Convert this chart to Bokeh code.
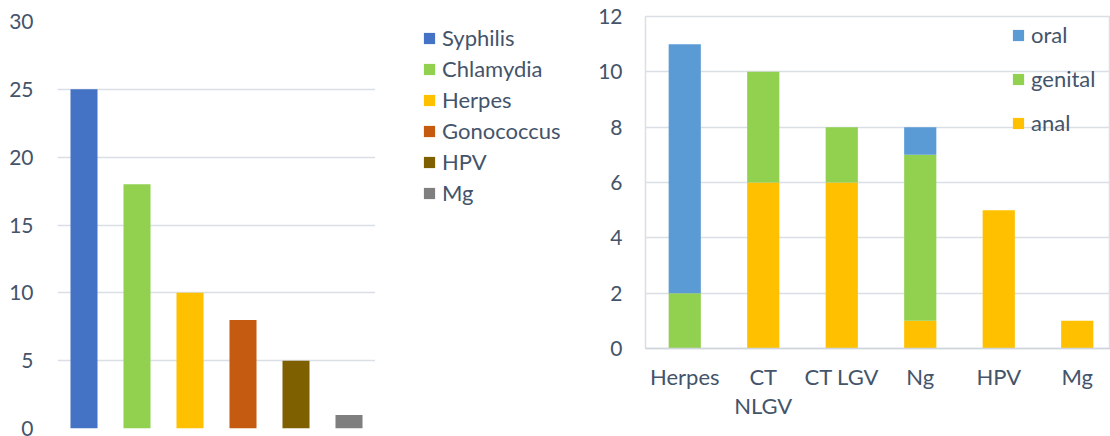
from bokeh.plotting import figure
from bokeh.models import Range1d, FixedTicker, Legend, LegendItem, ColumnDataSource
from bokeh.layouts import row
from bokeh.embed import file_html
from bokeh.resources import INLINE

# ---- data ----
left_cats = ["Syphilis", "Chlamydia", "Herpes", "Gonococcus", "HPV", "Mg"]
left_vals = [25, 18, 10, 8, 5, 1]
left_colors = ["#4472C4", "#92D050", "#FFC000", "#C55A11", "#7F6000", "#7F7F7F"]
left_ticks = [0, 5, 10, 15, 20, 25, 30]

right_cats = ["Herpes", "CT\nNLGV", "CT LGV", "Ng", "HPV", "Mg"]
anal = [0, 6, 6, 1, 5, 1]
genital = [2, 4, 2, 6, 0, 0]
oral = [9, 0, 0, 1, 0, 0]
right_series = ["anal", "genital", "oral"]
right_colors = ["#FFC000", "#92D050", "#5B9BD5"]
right_ticks = [0, 2, 4, 6, 8, 10, 12]

FONT = "Lato"
TXT = "#44546A"
GRID = "#DADFE6"

# ---- left chart ----
lx = [i + 0.5 for i in range(len(left_cats))]
lsrc = ColumnDataSource(dict(x=lx, top=left_vals, color=left_colors, cat=left_cats))
p1 = figure(width=375, height=436, output_backend="svg", toolbar_location=None,
            x_range=Range1d(0, len(left_cats)), y_range=Range1d(0, 30),
            min_border_left=57, min_border_right=0, min_border_top=21, min_border_bottom=8)
p1.frame_align = False
r1 = p1.vbar(x="x", top="top", width=0.51, fill_color="color", line_color=None, source=lsrc)
p1.xaxis.visible = False
p1.xgrid.visible = False
p1.ygrid.grid_line_color = GRID
p1.ygrid.grid_line_width = 1.5
p1.yaxis.ticker = FixedTicker(ticks=left_ticks)
p1.yaxis.axis_line_color = None
p1.yaxis.major_tick_line_color = None
p1.yaxis.minor_tick_line_color = None
p1.yaxis.major_tick_out = 0
p1.yaxis.minor_tick_out = 0
p1.yaxis.major_label_standoff = 24
p1.yaxis.major_label_text_font = FONT
p1.yaxis.major_label_text_font_size = "21px"
p1.yaxis.major_label_text_color = TXT
p1.outline_line_color = None

# ---- left legend (own blank panel to the right of the chart) ----
pl = figure(width=215, height=436, output_backend="svg", toolbar_location=None,
            x_range=Range1d(100, 101), y_range=Range1d(100, 101),
            min_border_left=0, min_border_right=0, min_border_top=0, min_border_bottom=0)
pl.frame_align = False
pl.axis.visible = False
pl.grid.visible = False
pl.outline_line_color = None
rl = pl.vbar(x="x", top="top", width=0.51, fill_color="color", line_color=None, source=lsrc)
items1 = [LegendItem(label=c, renderers=[rl], index=i) for i, c in enumerate(left_cats)]
leg1 = Legend(items=items1, location=(47, 230), padding=0, margin=0, spacing=4,
              glyph_width=14, glyph_height=14, label_height=20, label_standoff=6,
              label_text_font=FONT, label_text_font_size="22px", label_text_color=TXT,
              border_line_color=None, background_fill_alpha=0)
pl.add_layout(leg1, "center")

# ---- right chart ----
rx = [i + 0.5 for i in range(len(right_cats))]
rsrc = ColumnDataSource(dict(x=rx, anal=anal, genital=genital, oral=oral))
p2 = figure(width=520, height=436, output_backend="svg", toolbar_location=None,
            x_range=Range1d(0, 465 / 78.5), y_range=Range1d(0, 12),
            min_border_left=55, min_border_right=0, min_border_top=16, min_border_bottom=88)
p2.frame_align = False
rs = p2.vbar_stack(right_series, x="x", width=0.41, fill_color=right_colors,
                   line_color=None, source=rsrc)
p2.xgrid.visible = False
p2.ygrid.grid_line_color = GRID
p2.ygrid.grid_line_width = 1.5
p2.outline_line_color = GRID
p2.outline_line_width = 1.5
p2.yaxis.ticker = FixedTicker(ticks=right_ticks)
p2.xaxis.ticker = FixedTicker(ticks=rx)
p2.xaxis.major_label_overrides = {x: c for x, c in zip(rx, right_cats)}
for ax in (p2.xaxis, p2.yaxis):
    ax.major_tick_line_color = None
    ax.minor_tick_line_color = None
    ax.major_tick_out = 0
    ax.minor_tick_out = 0
    ax.major_label_text_font = FONT
    ax.major_label_text_color = TXT
p2.yaxis.major_label_text_font_size = "21px"
p2.xaxis.major_label_text_font_size = "22px"
p2.yaxis.axis_line_color = None
p2.yaxis.major_label_standoff = 23
p2.xaxis.axis_line_color = "#D0D5DC"
p2.xaxis.axis_line_width = 1.5
p2.xaxis.major_label_standoff = 14
p2.xaxis.major_label_text_line_height = 1.1

items2 = [LegendItem(label=n, renderers=[r]) for n, r in zip(right_series, rs)][::-1]
leg2 = Legend(items=items2, location=(366, 212), padding=0, margin=0, spacing=17,
              glyph_width=14, glyph_height=14, label_height=20, label_standoff=6,
              label_text_font=FONT, label_text_font_size="22px", label_text_color=TXT,
              border_line_color=None, background_fill_alpha=0)
p2.add_layout(leg2, "center")

layout = row(p1, pl, p2)
open("out.html", "w").write(file_html(layout, INLINE))
